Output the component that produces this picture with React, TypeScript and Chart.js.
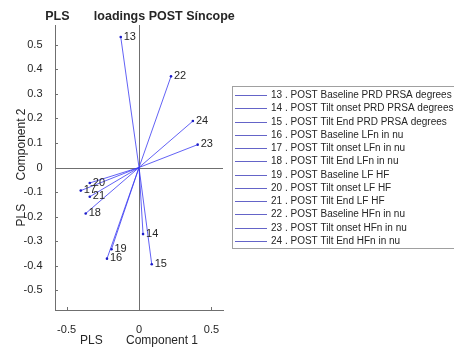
import React, { useEffect, useRef } from "react";
import { Chart, registerables } from "chart.js";

Chart.register(...registerables);

// ---- data ----
const varIds = [13, 14, 15, 16, 17, 18, 19, 20, 21, 22, 23, 24];
const varNames = [
  "POST Baseline PRD PRSA degrees",
  "POST Tilt onset PRD PRSA degrees",
  "POST Tilt End PRD PRSA degrees",
  "POST Baseline LFn in nu",
  "POST Tilt onset LFn in nu",
  "POST Tilt End LFn in nu",
  "POST Baseline LF HF",
  "POST Tilt onset LF HF",
  "POST Tilt End LF HF",
  "POST Baseline HFn in nu",
  "POST Tilt onset HFn in nu",
  "POST Tilt End HFn in nu",
];
const component1 = [-0.126, 0.028, 0.088, -0.221, -0.402, -0.368, -0.19, -0.34, -0.34, 0.221, 0.405, 0.372];
const component2 = [0.531, -0.271, -0.394, -0.371, -0.094, -0.187, -0.333, -0.063, -0.119, 0.371, 0.093, 0.189];

const xTicks = [-0.5, 0, 0.5];
const xTickLabels = ["-0.5", "0", "0.5"];
const yTicks = [-0.5, -0.4, -0.3, -0.2, -0.1, 0, 0.1, 0.2, 0.3, 0.4, 0.5];
const yTickLabels = ["-0.5", "-0.4", "-0.3", "-0.2", "-0.1", "0", "0.1", "0.2", "0.3", "0.4", "0.5"];

const chartTitle = "PLS       loadings POST Síncope";
const xTitle = "PLS       Component 1";
const yTitle = "PLS       Component 2";

// ---- styles ----
const FONT = "'Liberation Sans', Arial, Helvetica, sans-serif";
const TEXT = "#262626";
const AXIS = "#6f6f6f";
const LINE = "#3a3af2";
const POINT = "#1c1cc8";
const LEGEND_LINE = "#6464c8";

const decorPlugin = {
  id: "decor",
  beforeDatasetsDraw(chart: any) {
    const { ctx, chartArea: ca, scales } = chart;
    const x = scales.x;
    const y = scales.y;
    ctx.save();
    ctx.strokeStyle = AXIS;
    ctx.lineWidth = 1;
    const x0 = Math.round(x.getPixelForValue(0)) + 0.5;
    const y0 = Math.round(y.getPixelForValue(0)) + 0.5;
    ctx.beginPath();
    ctx.moveTo(ca.left, y0);
    ctx.lineTo(ca.right, y0);
    ctx.moveTo(x0, ca.top);
    ctx.lineTo(x0, ca.bottom);
    yTicks.forEach((v) => {
      const py = Math.round(y.getPixelForValue(v)) + 0.5;
      ctx.moveTo(ca.left, py);
      ctx.lineTo(ca.left + 3, py);
    });
    xTicks.forEach((v) => {
      const px = Math.round(x.getPixelForValue(v)) + 0.5;
      ctx.moveTo(px, ca.bottom);
      ctx.lineTo(px, ca.bottom - 3);
    });
    ctx.stroke();
    ctx.restore();
  },
  afterDatasetsDraw(chart: any) {
    const { ctx } = chart;
    ctx.save();
    ctx.font = `11px ${FONT}`;
    ctx.fillStyle = TEXT;
    ctx.textAlign = "left";
    ctx.textBaseline = "middle";
    chart.data.datasets.forEach((ds: any, i: number) => {
      const meta = chart.getDatasetMeta(i);
      const pt = meta.data[1];
      ctx.fillText(String(varIds[i]), pt.x + 3, pt.y - 0.5);
    });
    ctx.restore();
  },
  afterDraw(chart: any) {
    const { ctx, chartArea: ca, width } = chart;
    ctx.save();
    // title
    ctx.font = `bold 12.5px ${FONT}`;
    ctx.fillStyle = TEXT;
    ctx.textAlign = "center";
    ctx.textBaseline = "middle";
    ctx.fillText(chartTitle, (ca.left + ca.right) / 2 + 1, 17);
    // legend
    const boxLeft = ca.right + 9;
    const boxTop = 86;
    const rowH = 13.25;
    const firstRow = 95;
    const n = chart.data.datasets.length;
    const boxBottom = firstRow + (n - 1) * rowH + 7;
    ctx.strokeStyle = "#a0a0a0";
    ctx.lineWidth = 1;
    ctx.strokeRect(Math.round(boxLeft) + 0.5, boxTop + 0.5, width, Math.round(boxBottom - boxTop));
    ctx.font = `10px ${FONT}`;
    ctx.textAlign = "left";
    ctx.textBaseline = "middle";
    chart.data.datasets.forEach((ds: any, i: number) => {
      const ry = Math.round(firstRow + i * rowH) + 0.5;
      ctx.strokeStyle = LEGEND_LINE;
      ctx.beginPath();
      ctx.moveTo(boxLeft + 3, ry);
      ctx.lineTo(boxLeft + 35, ry);
      ctx.stroke();
      ctx.fillStyle = TEXT;
      ctx.fillText(ds.label, boxLeft + 39, ry);
    });
    ctx.restore();
  },
};

export default function App() {
  const canvasRef = useRef<HTMLCanvasElement | null>(null);

  useEffect(() => {
    if (!canvasRef.current) return;
    const datasets = component1.map((cx, i) => ({
      label: `${varIds[i]} . ${varNames[i]}`,
      data: [
        { x: 0, y: 0 },
        { x: cx, y: component2[i] },
      ],
      showLine: true,
      borderColor: LINE,
      borderWidth: 0.8,
      pointRadius: [0, 1.3],
      pointBackgroundColor: POINT,
      pointBorderWidth: 0,
    }));

    const chart = new Chart(canvasRef.current, {
      type: "scatter",
      data: { datasets },
      options: {
        animation: false,
        responsive: false,
        devicePixelRatio: 1,
        layout: { padding: { left: 0, top: 25, right: 231, bottom: 0 } },
        plugins: {
          legend: { display: false },
          tooltip: { enabled: false },
          title: { display: false },
        },
        scales: {
          x: {
            type: "linear",
            min: -0.58,
            max: 0.58,
            afterBuildTicks: (s: any) => {
              s.ticks = xTicks.map((v) => ({ value: v }));
            },
            afterFit: (s: any) => {
              s.height = 41;
            },
            grid: { display: false },
            border: { display: true, color: AXIS, width: 1 },
            ticks: {
              font: { family: FONT, size: 11 },
              color: TEXT,
              padding: 5,
              maxRotation: 0,
              autoSkip: false,
              callback: (v: any) => xTickLabels[xTicks.findIndex((t) => Math.abs(t - v) < 1e-9)],
            },
            title: {
              display: true,
              text: xTitle,
              font: { family: FONT, size: 12 },
              color: TEXT,
              padding: { top: 0, bottom: 3 },
            },
          },
          y: {
            type: "linear",
            min: -0.58,
            max: 0.58,
            afterBuildTicks: (s: any) => {
              s.ticks = yTicks.map((v) => ({ value: v }));
            },
            afterFit: (s: any) => {
              s.width = 55;
            },
            grid: { display: false },
            border: { display: true, color: AXIS, width: 1 },
            ticks: {
              font: { family: FONT, size: 11 },
              color: TEXT,
              padding: 4.5,
              autoSkip: false,
              callback: (v: any) => yTickLabels[yTicks.findIndex((t) => Math.abs(t - v) < 1e-9)],
            },
            title: {
              display: true,
              text: yTitle,
              font: { family: FONT, size: 12 },
              color: TEXT,
              padding: { top: 14, bottom: 0 },
            },
          },
        },
      },
      plugins: [decorPlugin],
    } as any);

    return () => chart.destroy();
  }, []);

  return (
    <div style={{ position: "absolute", left: 0, top: 0, width: 454, height: 351, background: "#fff" }}>
      <canvas ref={canvasRef} width={454} height={351} style={{ display: "block" }} />
    </div>
  );
}
